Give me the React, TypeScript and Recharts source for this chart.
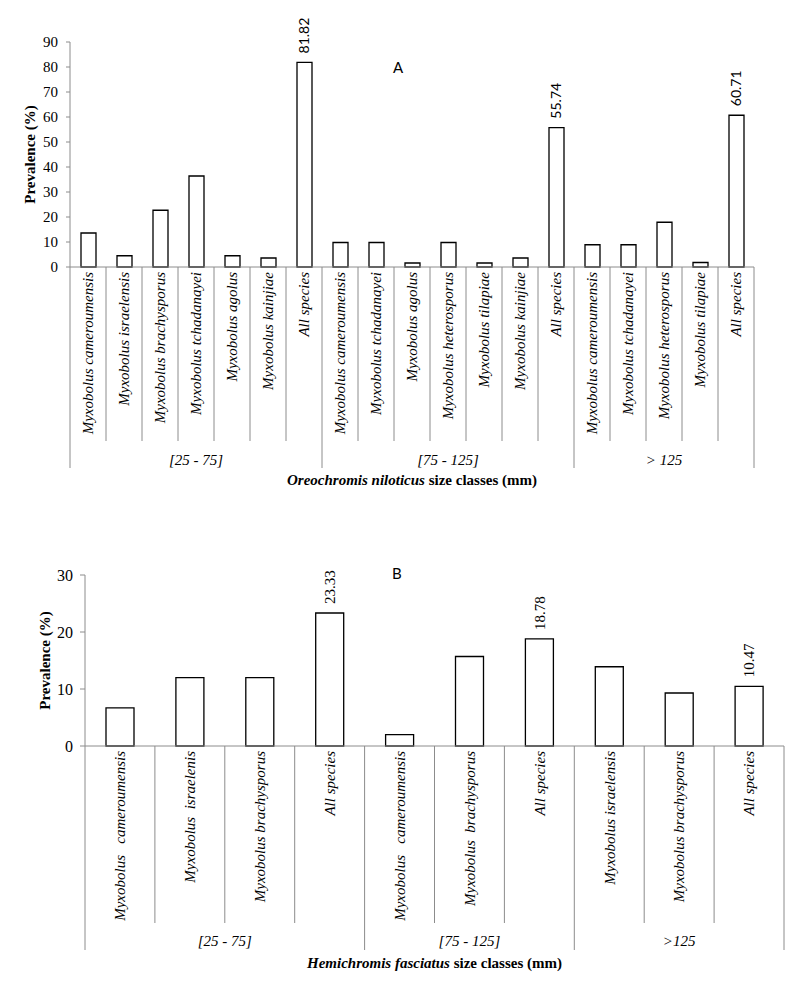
import React from "react";
import { Bar, BarChart, Label, LabelList, XAxis, YAxis } from "recharts";

const SERIF = '"Liberation Serif", "Times New Roman", Times, serif';
const SANS = 'Lato, "Open Sans", sans-serif';
const GRAY = "#8c8c8c";

// Panel A - Oreochromis niloticus
const groupsA = ["[25 - 75]", "[75 - 125]", "> 125"];
const speciesA1 = [
  "Myxobolus cameroumensis",
  "Myxobolus israelensis",
  "Myxobolus brachysporus",
  "Myxobolus tchadanayei",
  "Myxobolus agolus",
  "Myxobolus kainjiae",
  "All species",
];
const valuesA1 = [13.6, 4.5, 22.7, 36.4, 4.5, 3.6, 81.82];
const speciesA2 = [
  "Myxobolus cameroumensis",
  "Myxobolus tchadanayei",
  "Myxobolus agolus",
  "Myxobolus heterosporus",
  "Myxobolus tilapiae",
  "Myxobolus kainjiae",
  "All species",
];
const valuesA2 = [9.8, 9.8, 1.6, 9.8, 1.6, 3.6, 55.74];
const speciesA3 = [
  "Myxobolus cameroumensis",
  "Myxobolus tchadanayei",
  "Myxobolus heterosporus",
  "Myxobolus tilapiae",
  "All species",
];
const valuesA3 = [8.9, 8.9, 17.9, 1.8, 60.71];
const ticksA = [0, 10, 20, 30, 40, 50, 60, 70, 80, 90];

// Panel B - Hemichromis fasciatus
const groupsB = ["[25 - 75]", "[75 - 125]", ">125"];
const speciesB1 = [
  "Myxobolus   cameroumensis",
  "Myxobolus  israelenis",
  "Myxobolus brachysporus",
  "All species",
];
const valuesB1 = [6.7, 12, 12, 23.33];
const speciesB2 = ["Myxobolus   cameroumensis", "Myxobolus  brachysporus", "All species"];
const valuesB2 = [2, 15.7, 18.78];
const speciesB3 = ["Myxobolus israelensis", "Myxobolus brachysporus", "All species"];
const valuesB3 = [13.9, 9.3, 10.47];
const ticksB = [0, 10, 20, 30];

type Row = {
  key: string;
  label: string;
  group: string;
  indexInGroup: number;
  groupSize: number;
  value: number;
  allValue?: number;
};

function buildRows(groups: string[], species: string[][], values: number[][]): Row[] {
  const rows: Row[] = [];
  groups.forEach((g, gi) => {
    species[gi].forEach((s, i) => {
      rows.push({
        key: `${gi}-${i}`,
        label: s,
        group: g,
        indexInGroup: i,
        groupSize: species[gi].length,
        value: values[gi][i],
        allValue: s === "All species" ? values[gi][i] : undefined,
      });
    });
  });
  return rows;
}

const rowsA = buildRows(groupsA, [speciesA1, speciesA2, speciesA3], [valuesA1, valuesA2, valuesA3]);
const rowsB = buildRows(groupsB, [speciesB1, speciesB2, speciesB3], [valuesB1, valuesB2, valuesB3]);

type TickCfg = { short: number; long: number; groupY: number; fontSize: number };

function makeTick(rows: Row[], cfg: TickCfg) {
  return (props: any) => {
    const { x, y, payload, width, visibleTicksCount } = props;
    const row = rows.find((r) => r.key === payload.value) ?? rows[payload.index];
    if (!row) return null;
    const half = payload.offset || width / visibleTicksCount / 2;
    const isLast = row.key === rows[rows.length - 1].key;
    const left = x - half;
    const ty = y + 5;
    return (
      <g>
        <line x1={left} x2={left} y1={y} y2={y + (row.indexInGroup === 0 ? cfg.long : cfg.short)} stroke={GRAY} />
        {isLast && <line x1={x + half} x2={x + half} y1={y} y2={y + cfg.long} stroke={GRAY} />}
        <text
          x={x}
          y={ty}
          transform={`rotate(-90, ${x}, ${ty})`}
          textAnchor="end"
          dy="0.35em"
          fill="#000"
          style={{ whiteSpace: "pre", fontFamily: SERIF, fontStyle: "italic", fontSize: cfg.fontSize }}
        >
          {row.label}
        </text>
        {row.indexInGroup === 0 && (
          <text
            x={left + row.groupSize * half}
            y={y + cfg.groupY}
            textAnchor="middle"
            dy="0.35em"
            fill="#000"
            style={{ fontFamily: SERIF, fontStyle: "italic", fontSize: 15 }}
          >
            {row.group}
          </text>
        )}
      </g>
    );
  };
}

function makeValueLabel(fontFamily: string, fontSize: number) {
  return (props: any) => {
    const { x, y, width, value } = props;
    if (value == null) return null;
    const cx = x + width / 2;
    const ty = y - 9;
    return (
      <text
        x={cx}
        y={ty}
        transform={`rotate(-90, ${cx}, ${ty})`}
        textAnchor="start"
        dy="0.35em"
        fill="#000"
        style={{ fontFamily, fontSize }}
      >
        {Number(value).toFixed(2)}
      </text>
    );
  };
}

function yTitle(dx: number) {
  return (props: any) => {
    const vb = props.viewBox;
    const cx = vb.x + dx;
    const cy = vb.y + vb.height / 2;
    return (
      <text
        x={cx}
        y={cy}
        transform={`rotate(-90, ${cx}, ${cy})`}
        textAnchor="middle"
        dy="0.35em"
        fill="#000"
        style={{ fontFamily: SERIF, fontWeight: "bold", fontSize: 15 }}
      >
        Prevalence (%)
      </text>
    );
  };
}

function xTitle(species: string, dy: number) {
  return (props: any) => {
    const vb = props.viewBox;
    return (
      <text
        x={vb.x + vb.width / 2}
        y={vb.y + dy}
        textAnchor="middle"
        dy="0.35em"
        fill="#000"
        style={{ fontFamily: SERIF, fontWeight: "bold", fontSize: 15 }}
      >
        <tspan style={{ fontStyle: "italic" }}>{species}</tspan> size classes (mm)
      </text>
    );
  };
}

const tickStyleA = { fill: "#000", fontSize: 15, style: { fontFamily: SERIF } };
const tickStyleB = { fill: "#000", fontSize: 16, style: { fontFamily: SERIF } };

export default function App() {
  return (
    <div style={{ position: "absolute", left: 0, top: 0, width: 800, height: 985, background: "#fff" }}>
      <BarChart width={800} height={500} data={rowsA} margin={{ top: 42, right: 46, bottom: 0, left: 0 }}>
        <XAxis
          dataKey="key"
          height={233}
          interval={0}
          tickSize={0}
          tickMargin={0}
          tickLine={false}
          axisLine={{ stroke: GRAY }}
          tick={makeTick(rowsA, { short: 174, long: 201, groupY: 193, fontSize: 15 })}
        >
          <Label content={xTitle("Oreochromis niloticus", 213)} />
        </XAxis>
        <YAxis
          width={70}
          domain={[0, 90]}
          ticks={ticksA}
          interval={0}
          tickSize={4}
          tickMargin={8}
          axisLine={{ stroke: GRAY }}
          tickLine={{ stroke: GRAY }}
          tick={tickStyleA}
        >
          <Label content={yTitle(30)} />
        </YAxis>
        <Bar dataKey="value" fill="#fff" stroke="#000" strokeWidth={1.3} barSize={15} isAnimationActive={false}>
          <LabelList dataKey="allValue" content={makeValueLabel(SANS, 14)} />
        </Bar>
      </BarChart>
      <BarChart width={800} height={485} data={rowsB} margin={{ top: 75, right: 16, bottom: 0, left: 0 }}>
        <XAxis
          dataKey="key"
          height={239}
          interval={0}
          tickSize={0}
          tickMargin={0}
          tickLine={false}
          axisLine={{ stroke: GRAY }}
          tick={makeTick(rowsB, { short: 177, long: 204, groupY: 195, fontSize: 15 })}
        >
          <Label content={xTitle("Hemichromis fasciatus", 217)} />
        </XAxis>
        <YAxis
          width={85}
          domain={[0, 30]}
          ticks={ticksB}
          interval={0}
          tickSize={5}
          tickMargin={7}
          axisLine={{ stroke: GRAY }}
          tickLine={{ stroke: GRAY }}
          tick={tickStyleB}
        >
          <Label content={yTitle(45)} />
        </YAxis>
        <Bar dataKey="value" fill="#fff" stroke="#000" strokeWidth={1.3} barSize={28} isAnimationActive={false}>
          <LabelList dataKey="allValue" content={makeValueLabel(SERIF, 15)} />
        </Bar>
      </BarChart>
      <div style={{ position: "absolute", left: 393, top: 58, fontFamily: SANS, fontSize: 15 }}>A</div>
      <div style={{ position: "absolute", left: 392, top: 564, fontFamily: SANS, fontSize: 15 }}>B</div>
    </div>
  );
}
